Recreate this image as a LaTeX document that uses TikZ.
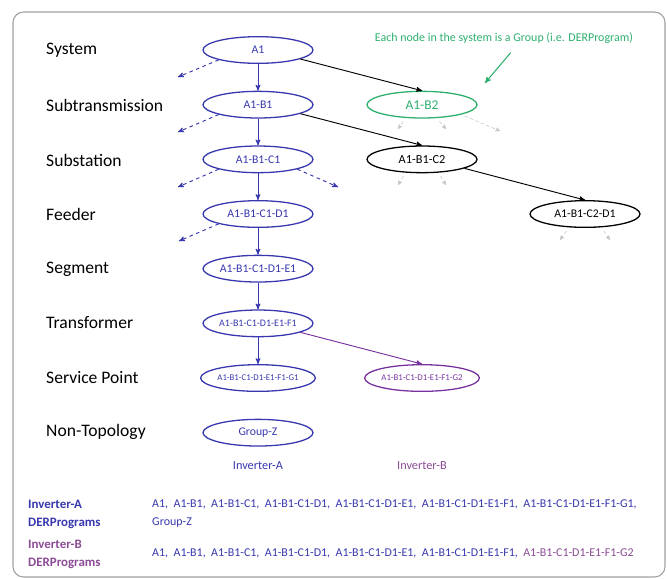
\documentclass[tikz,border=0pt]{standalone}
\usepackage{fontspec}
\setmainfont{Carlito}
\usetikzlibrary{shapes.geometric, positioning, arrows}
\definecolor{topoblue}{RGB}{55,55,175}
\definecolor{notegreen}{RGB}{45,175,110}
\definecolor{invpurple}{RGB}{120,50,160}
\definecolor{invbtext}{RGB}{140,75,150}
\tikzset{
>=stealth', % small filled arrow heads
node distance=1.64cm, % distance between two levels of the topology
group/.style={ellipse, draw=topoblue, line width=1.1pt, text=topoblue, minimum width=3.3cm, minimum height=0.8cm, inner sep=0pt, font=\fontsize{10}{12}\selectfont}, % each group (DERProgram)
level/.style={anchor=west, inner sep=0pt, font=\fontsize{15}{18}\selectfont}, % level names on the left
link/.style={->, line width=0.8pt, topoblue}, % parent to child
stub/.style={->, dashed, line width=0.8pt, topoblue}, % more children, not drawn
faint/.style={->, densely dashed, line width=0.5pt, gray!45}, % children of other groups
}

\begin{document}
\begin{tikzpicture}[x=0.03cm, y=-0.03cm]
                \useasboundingbox (0,0) rectangle (667,578);
                \draw[rounded corners=9pt, gray!75, line width=0.9pt] (13,12) rectangle (665,577);
                % levels
                \node[level] (lsys) at (46,50) {System};
                \node[level] (lsubt) at (46,105) {Subtransmission};
                \node[level] (lsubs) at (46,160) {Substation};
                \node[level] (lfeed) at (46,214) {Feeder};
                \node[level] (lseg) at (46,269) {Segment};
                \node[level] (ltrans) at (46,323) {Transformer};
                \node[level] (lsp) at (46,378) {Service Point};
                \node[level] (lnon) at (46,432) {Non-Topology};
                % inverter A branch
                \node[group] (a1) at (258,50) {A1};
                \node[group, below of=a1] (a1b1) {A1-B1};
                \node[group, below of=a1b1] (a1b1c1) {A1-B1-C1};
                \node[group, below of=a1b1c1] (a1b1c1d1) {A1-B1-C1-D1};
                \node[group, below of=a1b1c1d1] (e1) {A1-B1-C1-D1-E1};
                \node[group, below of=e1, font=\fontsize{8.5}{10}\selectfont] (f1) {A1-B1-C1-D1-E1-F1};
                \node[group, below of=f1, font=\fontsize{7.5}{9}\selectfont] (g1) {A1-B1-C1-D1-E1-F1-G1};
                \node[group, below of=g1] (groupz) {Group-Z};
                % other groups
                \node[group, right of=a1b1, node distance=4.92cm, draw=notegreen, text=notegreen, font=\fontsize{11.5}{13}\selectfont] (b2) {A1-B2};
                \node[group, right of=a1b1c1, node distance=4.92cm, draw=black, text=black, font=\fontsize{10.5}{12}\selectfont] (c2) {A1-B1-C2};
                \node[group, right of=a1b1c1d1, node distance=9.81cm, draw=black, text=black, font=\fontsize{10}{12}\selectfont] (d2) {A1-B1-C2-D1};
                \node[group, right of=g1, node distance=4.92cm, draw=invpurple, text=invpurple, font=\fontsize{7.5}{9}\selectfont] (g2) {A1-B1-C1-D1-E1-F1-G2};
                \draw[link]
                    (a1) edge (a1b1)
                    (a1b1) edge (a1b1c1)
                    (a1b1c1) edge (a1b1c1d1)
                    (a1b1c1d1) edge (e1)
                    (e1) edge (f1)
                    (f1) edge (g1)
                    ;
                \draw[->, line width=0.8pt] (a1.-12) -- (b2.north);
                \draw[->, line width=0.8pt] (a1b1.-12) -- (c2.north);
                \draw[->, line width=0.8pt] (c2.-12) -- (d2.north);
                \draw[->, line width=0.8pt, invpurple] (f1.-12) -- (g2.north);
                % dashed stubs
                \coordinate (sa1) at (178,77);
                \coordinate (sb1) at (178,132);
                \coordinate (sc1) at (178,187);
                \coordinate (sc1r) at (338,187);
                \coordinate (sd1) at (179,241);
                \draw[stub] (a1.south west) -- (sa1);
                \draw[stub] (a1b1.south west) -- (sb1);
                \draw[stub] (a1b1c1.south west) -- (sc1);
                \draw[stub] (a1b1c1.south east) -- (sc1r);
                \draw[stub] (a1b1c1d1.south west) -- (sd1);
                \coordinate (fb2a) at (398,129);
                \coordinate (fb2b) at (446,129);
                \coordinate (fb2c) at (500,131);
                \coordinate (fc2a) at (398,185);
                \coordinate (fc2b) at (446,185);
                \coordinate (fd2a) at (560,240);
                \coordinate (fd2b) at (610,240);
                \draw[faint, shorten <=3pt] ([xshift=-0.5cm]b2.south) -- (fb2a);
                \draw[faint, shorten <=3pt] ([xshift=0.45cm]b2.south) -- (fb2b);
                \draw[faint, shorten <=3pt] (b2.south east) -- (fb2c);
                \draw[faint, shorten <=3pt] ([xshift=-0.5cm]c2.south) -- (fc2a);
                \draw[faint, shorten <=3pt] ([xshift=0.5cm]c2.south) -- (fc2b);
                \draw[faint, shorten <=3pt] ([xshift=-0.5cm]d2.south) -- (fd2a);
                \draw[faint, shorten <=3pt] ([xshift=0.5cm]d2.south) -- (fd2b);
                % note
                \node[text=notegreen, font=\fontsize{10.2}{12}\selectfont] (note) at (504,38) {Each node in the system is a Group (i.e. DERProgram)};
                \coordinate (notetip) at (485,83);
                \draw[->, line width=0.9pt, notegreen, shorten <=0.2cm] ([xshift=0.33cm]note.south) -- (notetip);
                % inverters
                \node[text=topoblue, font=\fontsize{10.5}{12}\selectfont] (inva) at (258,466) {Inverter-A};
                \node[text=invbtext, font=\fontsize{10.5}{12}\selectfont] (invb) at (422,466) {Inverter-B};
                \node[anchor=north west, align=left, text=topoblue, font=\fontsize{11}{15}\selectfont\bfseries, inner sep=0pt] (dera) at (28,500) {Inverter-A\\DERPrograms};
                \node[anchor=north west, align=left, text=invbtext, font=\fontsize{11}{15}\selectfont\bfseries, inner sep=0pt] (derb) at (28,540) {Inverter-B\\DERPrograms};
                \node[anchor=north west, align=left, text=topoblue, font=\fontsize{10.2}{15}\selectfont, inner sep=0pt] (lista) at (152,500) {A1,\ \ A1-B1,\ \ A1-B1-C1,\ \ A1-B1-C1-D1,\ \ A1-B1-C1-D1-E1,\ \ A1-B1-C1-D1-E1-F1,\ \ A1-B1-C1-D1-E1-F1-G1,\\Group-Z};
                \node[anchor=west, align=left, text=topoblue, font=\fontsize{10.2}{15}\selectfont, inner sep=0pt] (listb) at (152,553) {A1,\ \ A1-B1,\ \ A1-B1-C1,\ \ A1-B1-C1-D1,\ \ A1-B1-C1-D1-E1,\ \ A1-B1-C1-D1-E1-F1,\ \ \textcolor{invbtext}{A1-B1-C1-D1-E1-F1-G2}};
                \end{tikzpicture}
\end{document}
